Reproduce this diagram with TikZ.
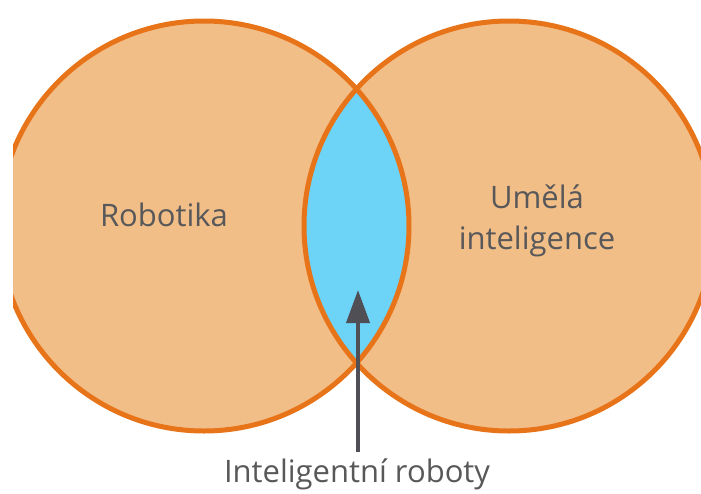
\documentclass[tikz,border=0pt]{standalone}
\usepackage{fontspec}
\setmainfont{Open Sans}
\usetikzlibrary{arrows.meta}
\definecolor{setfill}{HTML}{F2BE87}
\definecolor{setline}{HTML}{E8741A}
\definecolor{lensfill}{HTML}{6DD3F7}
\definecolor{pointer}{HTML}{4F4F55}
\definecolor{labeltext}{HTML}{58585A}
\tikzset{
  setlabel/.style={text=labeltext, font=\fontsize{31}{41}\selectfont, align=center, inner sep=0pt},
  setrim/.style={draw=setline, line width=5pt},
  pointerline/.style={draw=pointer, line width=4pt, -{Triangle[length=33pt, width=23pt]}}
}
\begin{document}
\begin{tikzpicture}[x=1pt, y=-1pt]
  \useasboundingbox (0,0) rectangle (701,493);
  \clip (13,0) rectangle (701,493);
  % the two sets
  \coordinate (cl) at (204,226);
  \coordinate (cr) at (509,226);
  \fill[setfill] (cl) circle[radius=205];
  \fill[setfill] (cr) circle[radius=205];
  % overlap of the sets
  \begin{scope}
    \clip (cl) circle[radius=205];
    \fill[lensfill] (cr) circle[radius=205];
  \end{scope}
  \draw[setrim] (cl) circle[radius=205];
  \draw[setrim] (cr) circle[radius=205];
  % labels
  \node[setlabel] (robo) at (164,215) {Robotika};
  \node[setlabel] (ai) at (537,221) {Umělá\\inteligence};
  \node[setlabel, anchor=base] (intro) at (357,482) {Inteligentní roboty};
  \coordinate (tip) at (358,290);
  \coordinate (tail) at (358,452);
  \draw[pointerline] (tail) -- (tip);
\end{tikzpicture}
\end{document}
